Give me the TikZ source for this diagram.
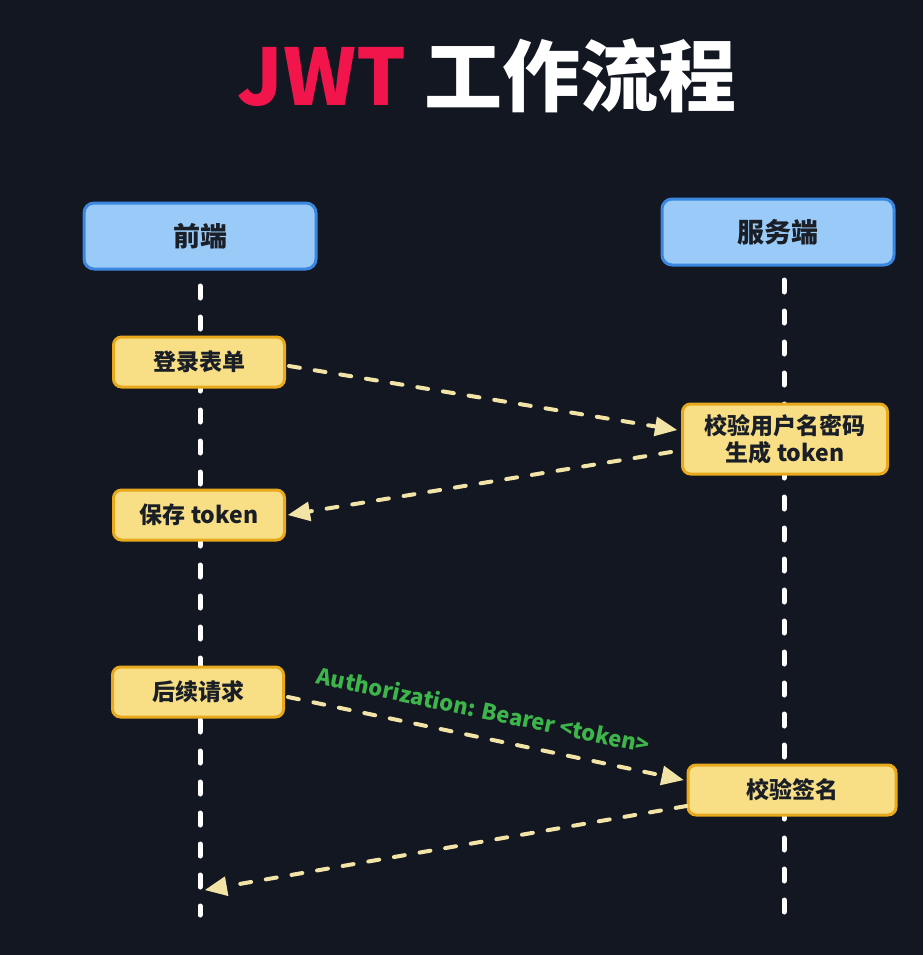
\documentclass[tikz,border=0pt]{standalone}
\usepackage{fontspec}
\setmainfont{Noto Sans CJK SC}
\usepackage{xcolor}
\usetikzlibrary{arrows.meta,positioning}
\definecolor{night}{HTML}{131722}
\definecolor{ink}{HTML}{1A1E26}
\definecolor{skyfill}{HTML}{9ACBF8}
\definecolor{skyline}{HTML}{3B86DE}
\definecolor{sunfill}{HTML}{F8DF86}
\definecolor{sunline}{HTML}{E8A91C}
\definecolor{msg}{HTML}{F2E4A6}
\definecolor{jwtred}{HTML}{F2154B}
\definecolor{hdr}{HTML}{3DB54A}

\begin{document}
\begin{tikzpicture}[
  x=1pt, y=-1pt,
  actor/.style={draw=skyline, line width=3pt, rounded corners=10pt, fill=skyfill, text=ink,
    minimum width=232pt, minimum height=66pt, font=\fontsize{27}{30}\selectfont\bfseries},
  stepbox/.style={draw=sunline, line width=3pt, rounded corners=8pt, fill=sunfill, text=ink,
    align=center, minimum width=171pt, minimum height=50pt, inner sep=4pt,
    font=\fontsize{23}{27}\selectfont\bfseries},
  life/.style={white, line width=5pt, line cap=round, dash pattern=on 12pt off 19pt},
  arr/.style={msg, line width=4pt, line cap=round, dash pattern=on 11pt off 15pt,
    -{Triangle[length=22pt, width=20pt, fill=msg, line width=0pt, round]}}
]
  \useasboundingbox[fill=night] (0,0) rectangle (923,955);

  \node[font=\fontsize{78}{82}\selectfont\bfseries, text=white] (title) at (487,76)
    {\textcolor{jwtred}{JWT} 工作流程};

  % actors and life lines
  \node[actor] (front) at (200,236) {前端};
  \node[actor] (server) at (778,232) {服务端};
  \coordinate (frontend) at (200,915);
  \coordinate (serverend) at (784,912);
  \draw[life] (200,286) -- (frontend);
  \draw[life] (784,280) -- (serverend);

  % steps
  \node[stepbox] (login) at (199,362) {登录表单};
  \node[stepbox, minimum width=205pt, minimum height=70pt] (check) at (785,439) {校验用户名密码\\生成 token};
  \node[stepbox] (save) at (199,515) {保存 token};
  \node[stepbox] (req) at (198,692) {后续请求};
  \node[stepbox, minimum width=208pt] (verify) at (792,790) {校验签名};
  \coordinate (back) at (205,890);

  % messages
  \draw[arr] ([xshift=3pt, yshift=-4pt]login.east) -- ([xshift=-4pt, yshift=9pt]check.west);
  \draw[arr] ([xshift=-10pt, yshift=-13pt]check.west) -- ([xshift=2pt]save.east);
  \draw[arr] ([xshift=3pt, yshift=-5pt]req.east) -- ([xshift=-3pt, yshift=10pt]verify.west)
    node[pos=0.48, sloped, above=13pt, text=hdr, font=\fontsize{22}{24}\selectfont\bfseries]
    {Authorization: Bearer <token>};
  \draw[arr] ([yshift=-16pt]verify.west) -- (back);
\end{tikzpicture}
\end{document}
